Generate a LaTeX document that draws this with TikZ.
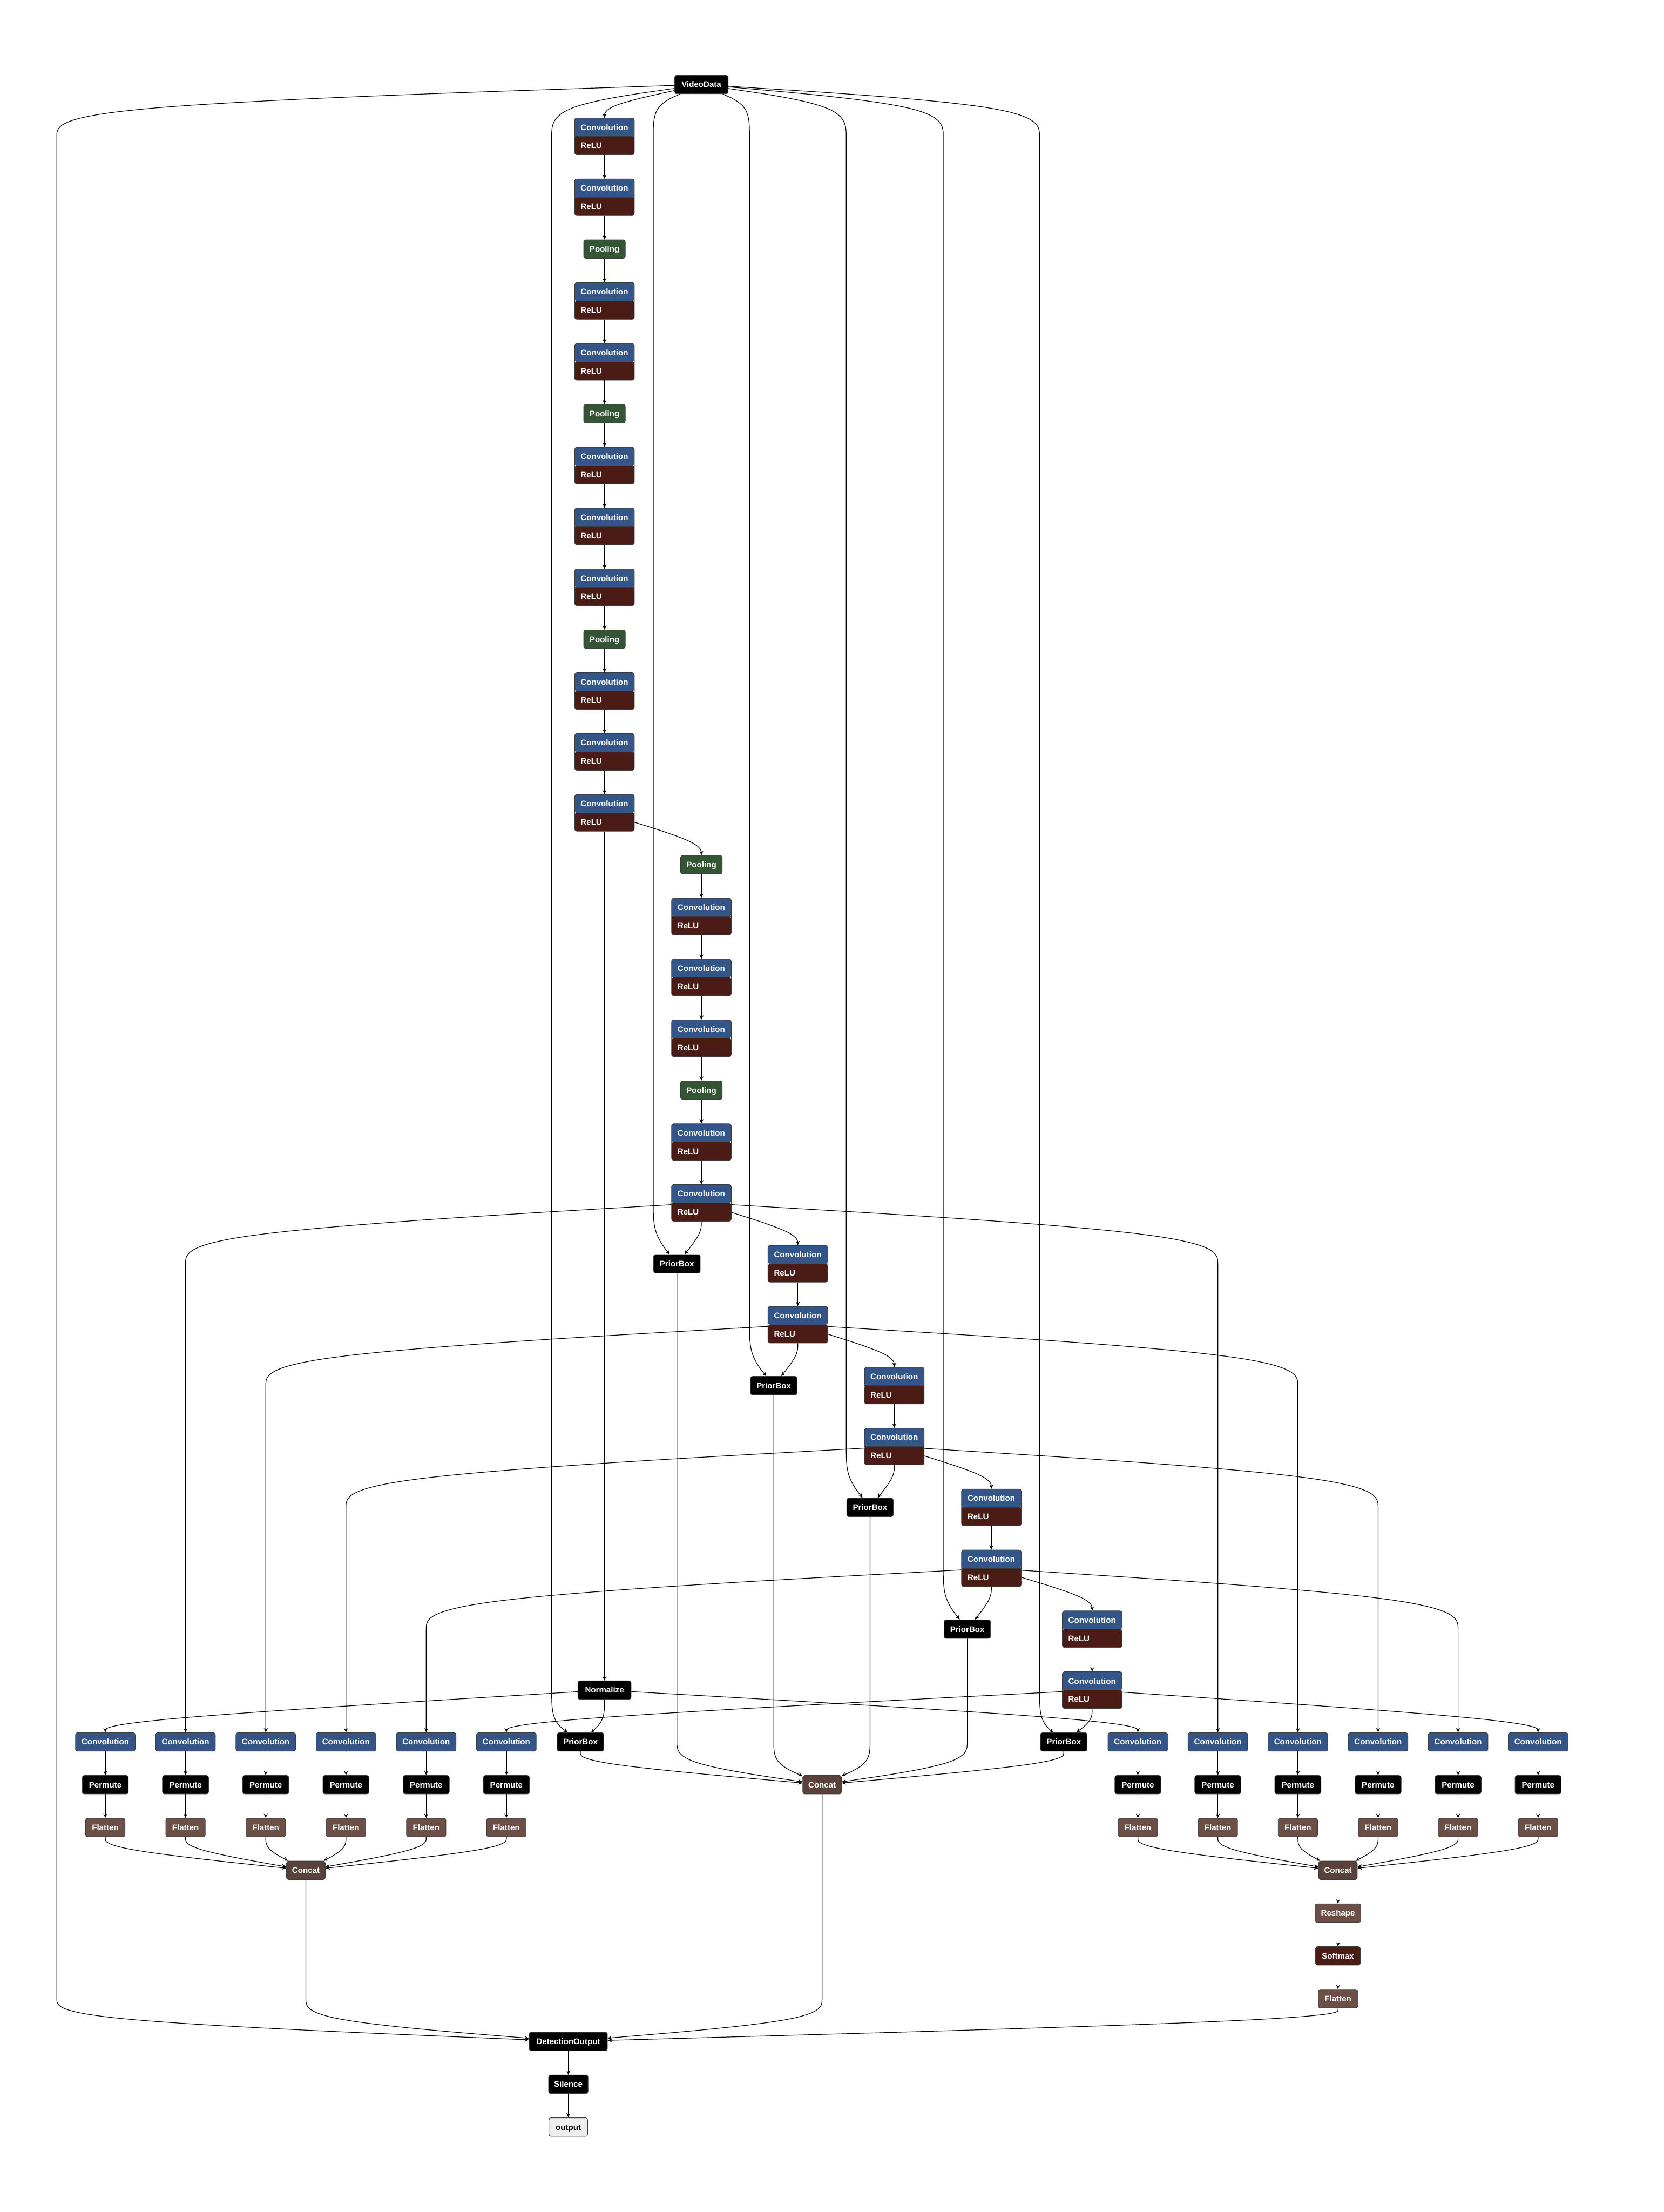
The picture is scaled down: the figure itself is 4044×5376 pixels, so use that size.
\documentclass[tikz,border=0pt]{standalone}
\usepackage{fontspec}
\setmainfont{Liberation Sans}
\usetikzlibrary{arrows.meta,calc}
\definecolor{convblue}{HTML}{335588}
\definecolor{relured}{HTML}{4B1B16}
\definecolor{poolgreen}{HTML}{335533}
\definecolor{concatbrown}{HTML}{59423B}
\definecolor{flatbrown}{HTML}{6C4F47}
\definecolor{nodeborder}{HTML}{3C3C3C}
\definecolor{outfill}{HTML}{EEEEEE}
\newcommand\nodefont{\fontsize{5.63pt}{6.5pt}\selectfont\bfseries}
\makeatletter
\newdimen\rsXa \newdimen\rsYa \newdimen\rsXb \newdimen\rsYb \newdimen\rsX \newdimen\rsY
\newdimen\rsFx \newdimen\rsFy \newdimen\rsLx \newdimen\rsLy
\newcount\rsState \newcount\rsN
\def\rsCurve{%
  \pgfpathcurveto
    {\pgfqpoint{\dimexpr(2\rsXa+\rsXb)/3\relax}{\dimexpr(2\rsYa+\rsYb)/3\relax}}%
    {\pgfqpoint{\dimexpr(\rsXa+2\rsXb)/3\relax}{\dimexpr(\rsYa+2\rsYb)/3\relax}}%
    {\pgfqpoint{\dimexpr(\rsXa+4\rsXb+\rsX)/6\relax}{\dimexpr(\rsYa+4\rsYb+\rsY)/6\relax}}}
\def\rsPoint{%
  \ifcase\rsState\relax
    \pgfpathmoveto{\pgfqpoint{\rsX}{\rsY}}\rsState=1\relax
  \or
    \rsState=2\relax
  \or
    \pgfpathlineto{\pgfqpoint{\dimexpr(5\rsXa+\rsXb)/6\relax}{\dimexpr(5\rsYa+\rsYb)/6\relax}}%
    \rsCurve\rsState=3\relax
  \else
    \rsCurve
  \fi
  \rsXa=\rsXb \rsYa=\rsYb \rsXb=\rsX \rsYb=\rsY}
\def\rsEnd{%
  \ifnum\rsState=3
    \rsX=\rsXb \rsY=\rsYb \rsCurve
    \pgfpathlineto{\pgfqpoint{\rsXb}{\rsYb}}%
  \else\ifnum\rsState=2
    \pgfpathlineto{\pgfqpoint{\rsXb}{\rsYb}}%
  \fi\fi}
\def\rsGet#1/#2\@nil{\pgf@process{\pgfpointxy{#1}{#2}}}
\newcommand\bedge[3]{%
  \begin{pgfscope}%
  \pgfsetlinewidth{0.45pt}%
  \pgfsetroundjoin
  \pgfsetarrowsend{Stealth[length=3pt,width=2.7pt,inset=1.1pt]}%
  \rsN=0\relax
  \@for\rs@it:=#3\do{%
    \expandafter\rsGet\rs@it\@nil
    \ifnum\rsN=0 \global\rsFx=\pgf@x \global\rsFy=\pgf@y\fi
    \global\advance\rsN by 1\relax
    \global\rsLx=\pgf@x \global\rsLy=\pgf@y}%
  \rsState=0\relax
  \pgf@process{\pgfpointshapeborder{#1}{\pgfqpoint{\rsFx}{\rsFy}}}%
  \rsX=\pgf@x \rsY=\pgf@y \rsPoint
  \@for\rs@it:=#3\do{%
    \expandafter\rsGet\rs@it\@nil
    \rsX=\pgf@x \rsY=\pgf@y \rsPoint}%
  \pgf@process{\pgfpointshapeborder{#2}{\pgfqpoint{\rsLx}{\rsLy}}}%
  \rsX=\pgf@x \rsY=\pgf@y \rsPoint
  \rsEnd
  \pgfusepath{stroke}%
  \end{pgfscope}}
\makeatother
\tikzset{
  conn/.style={line width=0.45pt, -{Stealth[length=3pt,width=2.7pt,inset=1.1pt]}},
  box/.style={rectangle, rounded corners=0.05cm, draw=nodeborder, line width=0.35pt,
    minimum height=0.45cm, inner sep=0pt, text height=4.03pt, text depth=0pt,
    text=white, font=\nodefont},
  blk/.style={box, fill=black},
  poolbox/.style={box, fill=poolgreen, minimum width=1.01cm},
  cnvbox/.style={box, fill=convblue, minimum width=1.45cm},
  priorbox/.style={blk, minimum width=1.13cm},
  permbox/.style={blk, minimum width=1.12cm},
  flatbox/.style={box, fill=flatbrown, minimum width=0.96cm},
  catbox/.style={box, fill=concatbrown, minimum width=0.94cm},
  crbox/.style={rectangle, rounded corners=0.05cm, draw=nodeborder, line width=0.35pt,
    minimum width=1.45cm, minimum height=0.89cm, inner sep=0pt,
    path picture={
      \fill[convblue] (path picture bounding box.north west) rectangle (path picture bounding box.east);
      \fill[relured] (path picture bounding box.west) rectangle (path picture bounding box.south east);
      \draw[nodeborder, line width=0.35pt] (path picture bounding box.west) -- (path picture bounding box.east);
    }},
  lbl/.style={inner sep=0pt, text height=4.03pt, text depth=0pt, text=white, font=\nodefont, anchor=west},
}
\newcommand\convrelu[3]{%
  \node[crbox] (#1) at (#2,#3+44.5) {};
  \node[lbl] (#1t) at ($(#1.west)+(14.5,-22.25)$) {Convolution};
  \node[lbl] (#1r) at ($(#1.west)+(14.5,22.25)$) {ReLU};
}
\begin{document}
\begin{tikzpicture}[x=0.01cm,y=-0.01cm]
\useasboundingbox (0,0) rectangle (4044,5376);
\fill[white] (0,0) rectangle (4044,5376);

% ---------- nodes ----------
\node[blk, minimum width=1.30cm] (VD) at (1705,205.5) {VideoData};

\convrelu{c1}{1469.5}{287}
\convrelu{c2}{1469.5}{435}
\node[poolbox] (p1) at (1469.5,605.5) {Pooling};
\convrelu{c3}{1469.5}{687}
\convrelu{c4}{1469.5}{835}
\node[poolbox] (p2) at (1469.5,1005.5) {Pooling};
\convrelu{c5}{1469.5}{1087}
\convrelu{c6}{1469.5}{1235}
\convrelu{c7}{1469.5}{1383}
\node[poolbox] (p3) at (1469.5,1553.5) {Pooling};
\convrelu{c8}{1469.5}{1635}
\convrelu{c9}{1469.5}{1783}
\convrelu{c10}{1469.5}{1931}

\node[poolbox] (p4) at (1705,2101.5) {Pooling};
\convrelu{c11}{1705}{2183}
\convrelu{c12}{1705}{2331}
\convrelu{c13}{1705}{2479}
\node[poolbox] (p5) at (1705,2649.5) {Pooling};
\convrelu{c14}{1705}{2731}
\convrelu{c15}{1705}{2879}

\convrelu{c16}{1939.5}{3027}
\convrelu{c17}{1939.5}{3175}
\convrelu{c18}{2174}{3323}
\convrelu{c19}{2174}{3471}
\convrelu{c20}{2410}{3619}
\convrelu{c21}{2410}{3767}
\convrelu{c22}{2655}{3915}
\convrelu{c23}{2655}{4063}

\node[priorbox] (pb1) at (1645.5,3071.5) {PriorBox};
\node[priorbox] (pb2) at (1881,3367.5) {PriorBox};
\node[priorbox] (pb3) at (2115,3663.5) {PriorBox};
\node[priorbox] (pb4) at (2351.5,3959.5) {PriorBox};
\node[priorbox] (pb0) at (1411,4233.5) {PriorBox};
\node[priorbox] (pb5) at (2586,4233.5) {PriorBox};
\node[blk, minimum width=1.29cm] (norm) at (1469.5,4107.5) {Normalize};

\foreach \i/\x in {1/256,2/451,3/646,4/841,5/1036,6/1231}{
  \node[cnvbox] (l\i) at (\x,4233.5) {Convolution};
  \node[permbox] (pl\i) at (\x,4337.5) {Permute};
  \node[flatbox] (fl\i) at (\x,4441.5) {Flatten};
}
\foreach \i/\x in {1/2766,2/2960.5,3/3155,4/3350,5/3544.5,6/3739}{
  \node[cnvbox] (f\i) at (\x,4233.5) {Convolution};
  \node[permbox] (pf\i) at (\x,4337.5) {Permute};
  \node[flatbox] (ff\i) at (\x,4441.5) {Flatten};
}
\node[catbox] (cl) at (743.5,4545.5) {Concat};
\node[catbox] (cr) at (3252.5,4545.5) {Concat};
\node[catbox] (pbc) at (1998.5,4337.5) {Concat};
\node[box, fill=flatbrown, minimum width=1.11cm] (resh) at (3252.5,4649.5) {Reshape};
\node[box, fill=relured, minimum width=1.09cm] (soft) at (3252.5,4753.5) {Softmax};
\node[flatbox] (flr) at (3252.5,4857.5) {Flatten};
\node[blk, minimum width=1.90cm] (det) at (1381.5,4961.5) {DetectionOutput};
\node[blk, minimum width=0.96cm] (sil) at (1381.5,5065.5) {Silence};
\node[box, fill=outfill, text=black, minimum width=0.94cm] (out) at (1381.5,5169.5) {output};

% ---------- straight connectors ----------
\foreach \a/\b in {c1/c2,c2/p1,p1/c3,c3/c4,c4/p2,p2/c5,c5/c6,c6/c7,c7/p3,p3/c8,c8/c9,c9/c10,c10/norm,
  p4/c11,c11/c12,c12/c13,c13/p5,p5/c14,c14/c15,c16/c17,c18/c19,c20/c21,c22/c23,
  cr/resh,resh/soft,soft/flr,det/sil,sil/out}{
  \draw[conn] (\a) -- (\b);
}
\foreach \i in {1,...,6}{
  \draw[conn] (l\i) -- (pl\i);
  \draw[conn] (pl\i) -- (fl\i);
  \draw[conn] (f\i) -- (pf\i);
  \draw[conn] (pf\i) -- (ff\i);
}

% ---------- curved connectors ----------
\bedge{VD}{c1}{1469.5/257.5}
\bedge{VD}{det}{138/257.5,138/331.5,138/405.5,138/4805.5,138/4857.5,138/4909.5}
\bedge{VD}{pb0}{1341/257.5,1341/331.5,1341/405.5,1341/4033.5,1341/4107.5,1341/4181.5}
\bedge{VD}{pb1}{1588/257.5,1588/331.5,1588/405.5,1588/2849.5,1588/2923.5,1588/2997.5}
\bedge{VD}{pb2}{1822/257.5,1822/331.5,1822/405.5,1822/3145.5,1822/3219.5,1822/3293.5}
\bedge{VD}{pb3}{2057/257.5,2057/331.5,2057/405.5,2057/3441.5,2057/3515.5,2057/3589.5}
\bedge{VD}{pb4}{2293/257.5,2293/331.5,2293/405.5,2293/3737.5,2293/3811.5,2293/3885.5}
\bedge{VD}{pb5}{2527/257.5,2527/331.5,2527/405.5,2527/4033.5,2527/4107.5,2527/4181.5}
\bedge{c10}{p4}{1705/2049.5}
\bedge{c15}{pb1}{1705/2997.5}
\bedge{c15}{c16}{1939.5/2997.5}
\bedge{c15}{l2}{451/2997.5,451/3071.5,451/3145.5,451/4033.5,451/4107.5,451/4181.5}
\bedge{c15}{f2}{2960.5/2997.5,2960.5/3071.5,2960.5/3145.5,2960.5/4033.5,2960.5/4107.5,2960.5/4181.5}
\bedge{c17}{c18}{2174/3293.5}
\bedge{c17}{pb2}{1939.5/3293.5}
\bedge{c17}{l3}{646/3293.5,646/3367.5,646/3441.5,646/4033.5,646/4107.5,646/4181.5}
\bedge{c17}{f3}{3155/3293.5,3155/3367.5,3155/3441.5,3155/4033.5,3155/4107.5,3155/4181.5}
\bedge{c19}{c20}{2410/3589.5}
\bedge{c19}{pb3}{2174/3589.5}
\bedge{c19}{l4}{841/3589.5,841/3663.5,841/3737.5,841/4033.5,841/4107.5,841/4181.5}
\bedge{c19}{f4}{3350/3589.5,3350/3663.5,3350/3737.5,3350/4033.5,3350/4107.5,3350/4181.5}
\bedge{c21}{c22}{2655/3885.5}
\bedge{c21}{pb4}{2410/3885.5}
\bedge{c21}{l5}{1036/3885.5,1036/3959.5,1036/4033.5,1036/4107.5,1036/4181.5}
\bedge{c21}{f5}{3544.5/3885.5,3544.5/3959.5,3544.5/4033.5,3544.5/4107.5,3544.5/4181.5}
\bedge{c23}{pb5}{2655/4181.5}
\bedge{c23}{l6}{1231/4181.5}
\bedge{c23}{f6}{3739/4181.5}
\bedge{norm}{pb0}{1469.5/4181.5}
\bedge{norm}{l1}{256/4181.5}
\bedge{norm}{f1}{2766/4181.5}
\bedge{fl1}{cl}{256/4493.5}
\bedge{fl2}{cl}{451/4493.5}
\bedge{fl3}{cl}{646/4493.5}
\bedge{fl4}{cl}{841/4493.5}
\bedge{fl5}{cl}{1036/4493.5}
\bedge{fl6}{cl}{1231/4493.5}
\bedge{ff1}{cr}{2766/4493.5}
\bedge{ff2}{cr}{2960.5/4493.5}
\bedge{ff3}{cr}{3155/4493.5}
\bedge{ff4}{cr}{3350/4493.5}
\bedge{ff5}{cr}{3544.5/4493.5}
\bedge{ff6}{cr}{3739/4493.5}
\bedge{pb0}{pbc}{1411/4285.5}
\bedge{pb1}{pbc}{1645.5/3145.5,1645.5/3219.5,1645.5/3293.5,1645.5/4181.5,1645.5/4233.5,1645.5/4285.5}
\bedge{pb2}{pbc}{1881/3441.5,1881/3515.5,1881/3589.5,1881/4181.5,1881/4233.5,1881/4285.5}
\bedge{pb3}{pbc}{2115/3737.5,2115/3811.5,2115/3885.5,2115/4181.5,2115/4233.5,2115/4285.5}
\bedge{pb4}{pbc}{2351.5/4033.5,2351.5/4107.5,2351.5/4181.5,2351.5/4233.5,2351.5/4285.5}
\bedge{pb5}{pbc}{2586/4285.5}
\bedge{cl}{det}{743.5/4597.5,743.5/4649.5,743.5/4701.5,743.5/4753.5,743.5/4805.5,743.5/4857.5,743.5/4909.5}
\bedge{pbc}{det}{1998.5/4389.5,1998.5/4441.5,1998.5/4493.5,1998.5/4805.5,1998.5/4857.5,1998.5/4909.5}
\bedge{flr}{det}{3252.5/4909.5}
\end{tikzpicture}
\end{document}
